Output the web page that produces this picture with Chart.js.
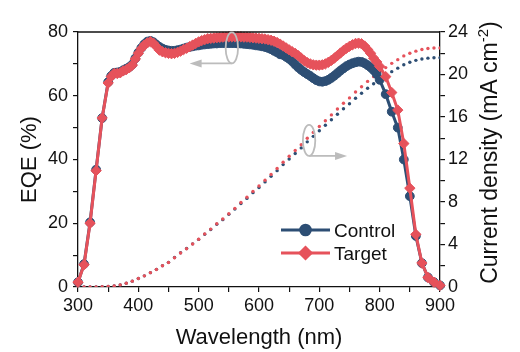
<!DOCTYPE html>
<html>
<head>
<meta charset="utf-8">
<script src="https://cdn.jsdelivr.net/npm/chart.js@4.4.1/dist/chart.umd.min.js"></script>
<style>
  html, body { margin: 0; padding: 0; background: #fff; }
  canvas { display: block; }
</style>
</head>
<body>
<canvas id="eqeChart" width="520" height="352"></canvas>
<script>
// wavelength grid of the EQE measurement (nm)
const wlEqe = [300, 310, 320, 330, 340,
    350, 355, 360, 365, 370, 375, 380, 385, 390, 395,
    400, 405, 410, 415, 420, 425, 430, 435, 440, 445,
    450, 455, 460, 465, 470, 475, 480, 485, 490, 495,
    500, 505, 510, 515, 520, 525, 530, 535, 540, 545,
    550, 555, 560, 565, 570, 575, 580, 585, 590, 595,
    600, 605, 610, 615, 620, 625, 630, 635, 640, 645,
    650, 655, 660, 665, 670, 675, 680, 685, 690, 695,
    700, 705, 710, 715, 720, 725, 730, 735, 740, 745,
    750, 755, 760, 765, 770, 775, 780, 785, 790, 795,
    800, 810, 820, 830, 840, 850, 860, 870, 880, 890, 900];

const eqeControl = [1.5, 7.2, 20.3, 36.8, 53,
    64.3, 66.2, 67.2, 67.3, 67.5, 68, 68.5, 69, 69.8, 71.7,
    73.5, 75, 76.2, 77, 77.2, 76.8, 76, 75.3, 74.8, 74.4,
    74.2, 74.1, 74.1, 74.3, 74.5, 74.8, 75.1, 75.3, 75.5, 75.7,
    75.8, 76, 76.1, 76.2, 76.3, 76.4, 76.4, 76.5, 76.5, 76.5,
    76.5, 76.5, 76.5, 76.4, 76.4, 76.3, 76.2, 76.1, 76, 75.8,
    75.7, 75.5, 75.3, 75, 74.6, 74.1, 73.6, 73, 72.8, 72.2,
    71.6, 70.8, 69.8, 68.9, 68.1, 67.4, 66.8, 66.2, 65.5, 64.9,
    64.5, 64.4, 64.6, 65, 65.6, 66.3, 67.1, 67.9, 68.6, 69.3,
    69.8, 70.2, 70.5, 70.7, 70.6, 70.2, 69.6, 68.9, 68, 66.8,
    65, 60.5, 55, 50, 40, 28.5, 16, 7.5, 3, 1.5, 0.5];

const eqeTarget = [1.5, 7, 20, 36.5, 53,
    64, 66, 67, 67, 67.2, 67.8, 68.2, 68.8, 69.6, 71.5,
    73.3, 74.8, 75.9, 76.6, 77, 76.5, 75.4, 74.3, 73.8, 73.5,
    73.3, 73.2, 73.3, 73.6, 74, 74.5, 74.9, 75.4, 75.9, 76.4,
    76.9, 77.3, 77.6, 77.9, 78, 78.1, 78.2, 78.3, 78.4, 78.4,
    78.5, 78.5, 78.5, 78.5, 78.5, 78.4, 78.4, 78.3, 78.2, 78.1,
    78, 77.9, 77.8, 77.6, 77.4, 77.1, 76.7, 76.2, 75.6, 75,
    74.4, 73.8, 73.3, 72.6, 71.8, 71, 70.4, 70, 69.7, 69.6,
    69.6, 69.7, 70, 70.5, 71.1, 71.8, 72.6, 73.4, 74.2, 74.9,
    75.5, 76, 76.4, 76.5, 76.3, 75.6, 74.5, 73.3, 71.8, 70.6,
    69.2, 66, 61, 55.5, 45, 31, 16.5, 7.5, 3, 1.5, 0.5];

// integrated current density (mA cm-2), every 10 nm
const wlJsc = [300, 310, 320, 330, 340, 350, 360, 370, 380, 390,
    400, 410, 420, 430, 440, 450, 460, 470, 480, 490,
    500, 510, 520, 530, 540, 550, 560, 570, 580, 590,
    600, 610, 620, 630, 640, 650, 660, 670, 680, 690,
    700, 710, 720, 730, 740, 750, 760, 770, 780, 790,
    800, 810, 820, 830, 840, 850, 860, 870, 880, 890, 900];

const jscControl = [0, 0, 0, 0.01, 0.02, 0.05, 0.1, 0.2, 0.35, 0.55,
    0.8, 1.05, 1.35, 1.66, 2.01, 2.32, 2.77, 3.22, 3.62, 4.06,
    4.48, 4.97, 5.41, 5.9, 6.34, 6.84, 7.33, 7.86, 8.34, 8.88,
    9.36, 9.89, 10.42, 10.95, 11.52, 12.05, 12.57, 13.09, 13.66, 14.18,
    14.7, 15.22, 15.74, 16.26, 16.78, 17.25, 17.77, 18.24, 18.71, 19.13,
    19.53, 19.9, 20.27, 20.6, 20.92, 21.15, 21.33, 21.46, 21.54, 21.57, 21.57];

const jscTarget = [0, 0, 0, 0.01, 0.02, 0.05, 0.1, 0.2, 0.35, 0.55,
    0.8, 1.05, 1.35, 1.65, 2.0, 2.3, 2.75, 3.2, 3.6, 4.05,
    4.5, 5.0, 5.45, 5.95, 6.4, 6.9, 7.4, 7.95, 8.45, 9.0,
    9.5, 10.05, 10.6, 11.15, 11.75, 12.3, 12.85, 13.4, 14.0, 14.55,
    15.1, 15.65, 16.2, 16.75, 17.3, 17.8, 18.35, 18.85, 19.35, 19.8,
    20.25, 20.65, 21.05, 21.4, 21.75, 22.0, 22.2, 22.35, 22.45, 22.5, 22.5];

const seriesNames = ['Control', 'Target'];
const blue = '#2d4e74';
const red = '#e6525b';
const grey = '#bcbcbc';
const fontFamily = "'Liberation Sans', Arial, sans-serif";

function toPoints(xs, ys) {
    return xs.map((x, i) => ({ x: x, y: ys[i] }));
}

function axisStyle() {
    return {
        grid: { drawOnChartArea: false, drawTicks: true, tickLength: 5, color: '#111', lineWidth: 1.2 },
        border: { color: '#111', width: 1.3 }
    };
}

// arrows, ellipses, top frame line, right title and legend
const extras = {
    id: 'extras',
    afterDatasetsDraw(chart) {
        const { ctx, chartArea: a, scales } = chart;
        const x = scales.x, y = scales.y, y1 = scales.y1;
        ctx.save();

        // top frame
        ctx.strokeStyle = '#111';
        ctx.lineWidth = 1.3;
        ctx.beginPath();
        ctx.moveTo(a.left, a.top);
        ctx.lineTo(a.right, a.top);
        ctx.stroke();

        function ellipseArrow(cx, cy, tipX, dir) {
            const rx = 6.2, ry = 15.5;
            ctx.strokeStyle = grey;
            ctx.fillStyle = grey;
            ctx.lineWidth = 1.8;
            ctx.beginPath();
            ctx.ellipse(cx, cy, rx, ry, 0, 0, Math.PI * 2);
            ctx.stroke();
            const ay = cy + ry;
            ctx.beginPath();
            ctx.moveTo(cx, ay);
            ctx.lineTo(tipX - dir * 10, ay);
            ctx.stroke();
            ctx.beginPath();
            ctx.moveTo(tipX, ay);
            ctx.lineTo(tipX - dir * 12, ay - 4);
            ctx.lineTo(tipX - dir * 12, ay + 4);
            ctx.closePath();
            ctx.fill();
        }
        // EQE -> left axis
        ellipseArrow(x.getPixelForValue(555), y.getPixelForValue(75), x.getPixelForValue(485), -1);
        // current density -> right axis
        ellipseArrow(x.getPixelForValue(683), y1.getPixelForValue(13.8), x.getPixelForValue(746), 1);

        // right axis title, reading bottom to top
        ctx.fillStyle = '#111';
        ctx.textBaseline = 'middle';
        ctx.textAlign = 'left';
        const main = 'Current density (mA cm';
        const sup = '-2';
        const close = ')';
        const bigFont = '23px ' + fontFamily;
        const smallFont = '15px ' + fontFamily;
        ctx.font = bigFont;
        const wMain = ctx.measureText(main).width;
        const wClose = ctx.measureText(close).width;
        ctx.font = smallFont;
        const wSup = ctx.measureText(sup).width;
        const total = wMain + wSup + wClose;
        ctx.translate(491, (a.top + a.bottom) / 2 - 7);
        ctx.rotate(-Math.PI / 2);
        let px = -total / 2;
        ctx.font = bigFont;
        ctx.fillText(main, px, 0);
        px += wMain;
        ctx.font = smallFont;
        ctx.fillText(sup, px, -7);
        px += wSup;
        ctx.font = bigFont;
        ctx.fillText(close, px, 0);
        ctx.setTransform(1, 0, 0, 1, 0, 0);

        // legend
        const rows = [
            { name: seriesNames[0], color: blue, style: 'circle', r: 4.8, y: 230 },
            { name: seriesNames[1], color: red, style: 'rectRot', r: 5.5, y: 253 }
        ];
        rows.forEach(row => {
            ctx.strokeStyle = row.color;
            ctx.lineWidth = 3;
            ctx.beginPath();
            ctx.moveTo(281, row.y);
            ctx.lineTo(330, row.y);
            ctx.stroke();
            ctx.fillStyle = row.color;
            Chart.helpers.drawPoint(ctx, { pointStyle: row.style, radius: row.r, borderWidth: 1 }, 305.5, row.y);
            ctx.fill();
            ctx.fillStyle = '#111';
            ctx.font = '19px ' + fontFamily;
            ctx.textBaseline = 'alphabetic';
            ctx.fillText(row.name, 334, row.y + 7);
        });

        ctx.restore();
    }
};

document.addEventListener('DOMContentLoaded', function () {
    Chart.defaults.font.family = fontFamily;
    Chart.defaults.color = '#111';

    const ctx = document.getElementById('eqeChart').getContext('2d');
    const eqeChart = new Chart(ctx, {
        type: 'line',
        data: {
            datasets: [
                {
                    label: 'Jsc ' + seriesNames[0],
                    data: toPoints(wlJsc, jscControl),
                    yAxisID: 'y1',
                    showLine: false,
                    pointStyle: 'circle',
                    pointRadius: 1.7,
                    pointBorderWidth: 0,
                    backgroundColor: blue,
                    borderColor: blue,
                    order: 4
                },
                {
                    label: 'Jsc ' + seriesNames[1],
                    data: toPoints(wlJsc, jscTarget),
                    yAxisID: 'y1',
                    showLine: false,
                    pointStyle: 'circle',
                    pointRadius: 1.7,
                    pointBorderWidth: 0,
                    backgroundColor: red,
                    borderColor: red,
                    order: 3
                },
                {
                    label: seriesNames[0],
                    data: toPoints(wlEqe, eqeControl),
                    yAxisID: 'y',
                    borderColor: blue,
                    backgroundColor: blue,
                    borderWidth: 3,
                    pointStyle: 'circle',
                    pointRadius: 4.4,
                    pointBorderWidth: 1,
                    clip: false,
                    order: 2
                },
                {
                    label: seriesNames[1],
                    data: toPoints(wlEqe, eqeTarget),
                    yAxisID: 'y',
                    borderColor: red,
                    backgroundColor: red,
                    borderWidth: 3,
                    pointStyle: 'rectRot',
                    pointRadius: 5.2,
                    pointBorderWidth: 1,
                    clip: false,
                    order: 1
                }
            ]
        },
        options: {
            responsive: false,
            animation: false,
            devicePixelRatio: 1,
            layout: { padding: { top: 32, left: 0, right: 0, bottom: 0 } },
            plugins: {
                legend: { display: false },
                tooltip: { enabled: false }
            },
            scales: {
                x: Object.assign(axisStyle(), {
                    type: 'linear',
                    min: 300,
                    max: 900,
                    ticks: {
                        stepSize: 50,
                        autoSkip: false,
                        maxRotation: 0,
                        padding: 3,
                        font: { size: 18 },
                        callback: v => (v % 100 === 0 ? v : '')
                    },
                    title: { display: true, text: 'Wavelength (nm)', font: { size: 22 }, padding: { top: 0, bottom: 1 } },
                    afterFit: s => { s.height = 65; }
                }),
                y: Object.assign(axisStyle(), {
                    position: 'left',
                    min: 0,
                    max: 80,
                    ticks: {
                        stepSize: 10,
                        autoSkip: false,
                        padding: 5,
                        font: { size: 18 },
                        callback: v => (v % 20 === 0 ? v : '')
                    },
                    title: { display: true, text: 'EQE (%)', font: { size: 22 }, padding: { top: 17, bottom: 0 } },
                    afterFit: s => { s.width = 78; }
                }),
                y1: Object.assign(axisStyle(), {
                    position: 'right',
                    min: 0,
                    max: 24,
                    ticks: {
                        stepSize: 2,
                        autoSkip: false,
                        padding: 3,
                        font: { size: 18 },
                        callback: v => (v % 4 === 0 ? v : '')
                    },
                    afterFit: s => { s.width = 80; }
                })
            }
        },
        plugins: [extras]
    });
});
</script>
</body>
</html>
